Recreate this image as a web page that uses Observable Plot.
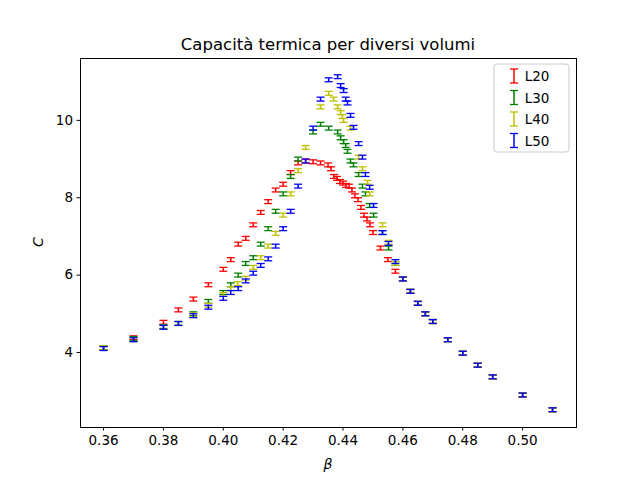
<!DOCTYPE html>
<html><head><meta charset="utf-8">
<script src="https://cdn.jsdelivr.net/npm/d3@7"></script>
<script src="https://cdn.jsdelivr.net/npm/@observablehq/plot@0.6"></script>
<style>body{margin:0;background:#fff;font-family:"DejaVu Sans",sans-serif}#wrap{position:relative;width:640px;height:480px}</style>
</head><body><div id="wrap"></div>
<script>
const seriesNames = ["L20","L30","L40","L50"];
const seriesColors = ["#ff0000","#008000","#bfbf00","#0000ff"];
const tailB = [0.46,0.4625,0.465,0.4675,0.47,0.475,0.48,0.485,0.49,0.50,0.51];
const tailC = [5.9,5.58,5.27,5.0,4.8,4.33,3.98,3.67,3.37,2.9,2.52];
const betaL20 = [0.36,0.37,0.38,0.385,0.39,0.395,0.40,0.4025,0.405,0.4075,0.41,0.4125,0.415,0.4175,0.42,0.4225,0.425,0.4275,0.43,0.4325,0.435,0.436,0.437,0.438,0.439,0.44,0.441,0.442,0.443,0.444,0.445,0.446,0.447,0.448,0.449,0.45,0.4525,0.455,0.4575,...tailB];
const cL20 = [4.12,4.38,4.78,5.1,5.38,5.75,6.15,6.4,6.8,6.95,7.3,7.62,7.9,8.2,8.35,8.65,8.9,8.95,8.93,8.9,8.85,8.75,8.55,8.5,8.42,8.38,8.32,8.3,8.2,8.05,7.95,7.75,7.55,7.45,7.3,7.1,6.7,6.4,6.1,...tailC];
const betaL30 = [0.36,0.37,0.38,0.385,0.39,0.395,0.40,0.4025,0.405,0.4075,0.41,0.4125,0.415,0.4175,0.42,0.4225,0.425,0.43,0.4325,0.4352,0.4382,0.4392,0.4402,0.4409,0.4415,0.4425,0.4435,0.4452,0.4465,0.4475,0.4489,0.4502,0.4532,0.4552,0.4575,...tailB];
const cL30 = [4.12,4.36,4.67,4.75,5.0,5.32,5.55,5.75,6.0,6.3,6.45,6.8,7.2,7.65,8.1,8.55,9.0,9.7,9.9,9.8,9.7,9.55,9.45,9.35,9.2,8.95,8.85,8.6,8.3,8.1,7.8,7.55,7.1,6.7,6.3,...tailC];
const betaL40 = [0.36,0.37,0.38,0.385,0.39,0.395,0.40,0.4025,0.4048,0.4075,0.41,0.4125,0.415,0.4175,0.42,0.4225,0.425,0.4275,0.4325,0.4352,0.4368,0.4382,0.4392,0.4398,0.4402,0.4425,0.4452,0.4465,0.4482,0.4489,0.4532,0.4552,0.4575,...tailB];
const cL40 = [4.12,4.33,4.65,4.75,4.97,5.22,5.5,5.65,5.78,5.92,6.2,6.45,6.75,7.08,7.55,8.1,8.7,9.3,10.35,10.7,10.55,10.35,10.2,10.1,10.0,9.8,9.05,8.75,8.4,8.1,7.3,6.85,6.3,...tailC];
const betaL50 = [0.36,0.37,0.38,0.385,0.39,0.395,0.40,0.4025,0.405,0.4075,0.41,0.4125,0.415,0.4175,0.42,0.4225,0.425,0.4275,0.43,0.4325,0.4352,0.4382,0.4392,0.4402,0.4409,0.4415,0.4425,0.4435,0.4452,0.4465,0.4475,0.4489,0.4502,0.4532,0.4552,0.4575,...tailB];
const cL50 = [4.1,4.33,4.65,4.75,4.95,5.17,5.4,5.55,5.65,5.85,6.05,6.25,6.42,6.75,7.2,7.65,8.3,8.95,9.8,10.55,11.05,11.13,10.9,10.77,10.55,10.45,10.13,9.82,9.4,9.05,8.6,8.27,7.8,7.1,6.82,6.35,...tailC];
const errC = 0.05;
const xTicks = [0.36,0.38,0.40,0.42,0.44,0.46,0.48,0.50];
const yTicks = [4,6,8,10];

const betas=[betaL20,betaL30,betaL40,betaL50], cs=[cL20,cL30,cL40,cL50];
const data=[];
seriesNames.forEach((s,i)=>betas[i].forEach((b,j)=>data.push({s,b,c:cs[i][j],lo:cs[i][j]-errC,hi:cs[i][j]+errC})));
const cap={draw(ctx,size){ctx.moveTo(-4,0);ctx.lineTo(4,0);}};
const marks=[];
marks.push(Plot.frame({stroke:"#000"}));
seriesNames.forEach((s,i)=>{
  const d=data.filter(r=>r.s===s);
  marks.push(Plot.link(d,{x1:"b",x2:"b",y1:"lo",y2:"hi",stroke:seriesColors[i],strokeWidth:1.5}));
  marks.push(Plot.dot(d,{x:"b",y:"lo",symbol:cap,stroke:seriesColors[i],strokeWidth:1.3,fill:"none"}));
  marks.push(Plot.dot(d,{x:"b",y:"hi",symbol:cap,stroke:seriesColors[i],strokeWidth:1.3,fill:"none"}));
});
marks.push(Plot.axisX(xTicks,{tickSize:3.5,tickPadding:4,tickFormat:d3.format(".2f"),fontSize:13.5,label:null}));
marks.push(Plot.axisY(yTicks,{tickSize:3.5,tickPadding:4,fontSize:13.5,label:null}));
const plot=Plot.plot({width:640,height:480,marginTop:58,marginBottom:53,marginLeft:80,marginRight:64,
  x:{domain:[0.3523,0.518]},y:{domain:[2.06,11.6]},style:{fontFamily:"DejaVu Sans",fontSize:"13.5px",color:"#000"},marks});
document.getElementById("wrap").appendChild(plot);
const svg=d3.select(plot);
svg.append("text").attr("x",328).attr("y",50).attr("text-anchor","middle").attr("font-size",16.5).text("Capacità termica per diversi volumi");
svg.append("text").attr("x",328).attr("y",469).attr("text-anchor","middle").attr("font-size",14).attr("font-style","italic").text("β");
svg.append("text").attr("transform","translate(43,242) rotate(-90)").attr("text-anchor","middle").attr("font-size",14).attr("font-style","italic").text("C");
const lg=svg.append("g");
lg.append("rect").attr("x",494).attr("y",64).attr("width",75).attr("height",88).attr("rx",3).attr("fill","#fff").attr("fill-opacity",0.8).attr("stroke","#ccc");
seriesNames.forEach((s,i)=>{
  const y=76+i*21.5, x=514, col=seriesColors[i];
  lg.append("line").attr("x1",x).attr("x2",x).attr("y1",y-7).attr("y2",y+7).attr("stroke",col).attr("stroke-width",1.5);
  lg.append("line").attr("x1",x-4).attr("x2",x+4).attr("y1",y-7).attr("y2",y-7).attr("stroke",col).attr("stroke-width",1.3);
  lg.append("line").attr("x1",x-4).attr("x2",x+4).attr("y1",y+7).attr("y2",y+7).attr("stroke",col).attr("stroke-width",1.3);
  lg.append("text").attr("x",537).attr("y",y+5).attr("font-size",13.5).text(s);
});
</script></body></html>
